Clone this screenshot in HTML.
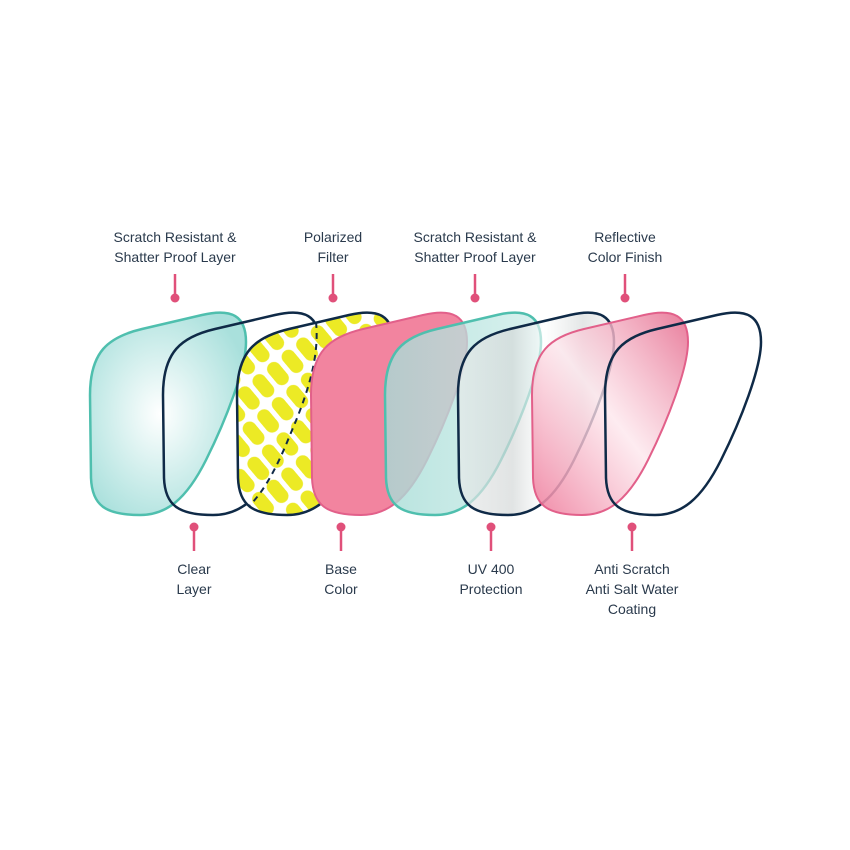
<!DOCTYPE html>
<html><head><meta charset="utf-8"><style>
html,body{margin:0;padding:0;background:#fff;}
svg{display:block;}
text{font-family:"Liberation Sans",sans-serif;font-size:14px;fill:#2a3a4c;text-anchor:middle;}
</style></head><body>
<svg width="850" height="850" viewBox="0 0 850 850" xmlns="http://www.w3.org/2000/svg">
<defs>
<path id="L" d="M0,85 C0,42 18,27 52,19 L112,5 C142,-2 156,6 156,32 C156,58 136,110 116,150 C96,190 76,205 50,205 C15,205 2,195 1,168 Z"/>
<radialGradient id="teal" cx="0.45" cy="0.5" r="0.6">
<stop offset="0" stop-color="#ffffff"/><stop offset="1" stop-color="#a9e0dc"/></radialGradient>
<linearGradient id="teal2" x1="0" y1="0" x2="1" y2="0">
<stop offset="0" stop-color="#a6dcd6" stop-opacity="0.8"/><stop offset="1" stop-color="#c9ece8" stop-opacity="0.7"/></linearGradient>
<linearGradient id="silver" x1="0" y1="0" x2="1" y2="0">
<stop offset="0" stop-color="#e8eaea" stop-opacity="0.7"/><stop offset="0.35" stop-color="#d4d8d8" stop-opacity="0.7"/><stop offset="0.55" stop-color="#ffffff" stop-opacity="0.6"/><stop offset="0.8" stop-color="#d8dcdc" stop-opacity="0.7"/><stop offset="1" stop-color="#eeeeee" stop-opacity="0.6"/></linearGradient>
<linearGradient id="pinkg" x1="0" y1="1" x2="1" y2="0">
<stop offset="0" stop-color="#ee7c9c"/><stop offset="0.5" stop-color="#fde6ec" stop-opacity="0.85"/><stop offset="1" stop-color="#e66e90"/></linearGradient>
<pattern id="dots" width="30" height="19" patternUnits="userSpaceOnUse" patternTransform="rotate(50)">
<rect width="30" height="19" fill="#fff"/>
<rect x="2" y="2.5" width="26" height="14" rx="7" fill="#ecea25"/>
</pattern>
<clipPath id="c3"><use href="#L" transform="translate(237,310)"/></clipPath>
</defs>
<use href="#L" transform="translate(90,310)" fill="url(#teal)" stroke="#4fbfae" stroke-width="2.5"/>
<use href="#L" transform="translate(163,310)" fill="none" stroke="#0f2a47" stroke-width="2.5"/>
<g>
<use href="#L" transform="translate(237,310)" fill="url(#dots)"/>
<g clip-path="url(#c3)">
<path d="M316,322 C320,360 305,400 290,435 C278,465 265,490 250,505" fill="none" stroke="#0f2a47" stroke-width="2" stroke-dasharray="6 5"/>
</g>
<use href="#L" transform="translate(237,310)" fill="none" stroke="#0f2a47" stroke-width="2.5"/>
</g>
<use href="#L" transform="translate(311,310)" fill="#f2849f" stroke="#e2608a" stroke-width="2"/>
<use href="#L" transform="translate(385,310)" fill="url(#teal2)" stroke="#4fbfae" stroke-width="2.5"/>
<use href="#L" transform="translate(458,310)" fill="url(#silver)" stroke="#0f2a47" stroke-width="2.5"/>
<use href="#L" transform="translate(532,310)" fill="url(#pinkg)" fill-opacity="0.9" stroke="#e2608a" stroke-width="2"/>
<use href="#L" transform="translate(605,310)" fill="none" stroke="#0f2a47" stroke-width="2.5"/>

<g stroke="#e0507a" stroke-width="2.5" fill="#e0507a">
<line x1="175" y1="274" x2="175" y2="297"/><circle cx="175" cy="298" r="4.5" stroke="none"/>
<line x1="333" y1="274" x2="333" y2="297"/><circle cx="333" cy="298" r="4.5" stroke="none"/>
<line x1="475" y1="274" x2="475" y2="297"/><circle cx="475" cy="298" r="4.5" stroke="none"/>
<line x1="625" y1="274" x2="625" y2="297"/><circle cx="625" cy="298" r="4.5" stroke="none"/>
<line x1="194" y1="527" x2="194" y2="551"/><circle cx="194" cy="527" r="4.5" stroke="none"/>
<line x1="341" y1="527" x2="341" y2="551"/><circle cx="341" cy="527" r="4.5" stroke="none"/>
<line x1="491" y1="527" x2="491" y2="551"/><circle cx="491" cy="527" r="4.5" stroke="none"/>
<line x1="632" y1="527" x2="632" y2="551"/><circle cx="632" cy="527" r="4.5" stroke="none"/>
</g>

<text x="175" y="242">Scratch Resistant &amp;</text>
<text x="175" y="262">Shatter Proof Layer</text>
<text x="333" y="242">Polarized</text>
<text x="333" y="262">Filter</text>
<text x="475" y="242">Scratch Resistant &amp;</text>
<text x="475" y="262">Shatter Proof Layer</text>
<text x="625" y="242">Reflective</text>
<text x="625" y="262">Color Finish</text>
<text x="194" y="574">Clear</text>
<text x="194" y="594">Layer</text>
<text x="341" y="574">Base</text>
<text x="341" y="594">Color</text>
<text x="491" y="574">UV 400</text>
<text x="491" y="594">Protection</text>
<text x="632" y="574">Anti Scratch</text>
<text x="632" y="594">Anti Salt Water</text>
<text x="632" y="614">Coating</text>
</svg>
</body></html>
